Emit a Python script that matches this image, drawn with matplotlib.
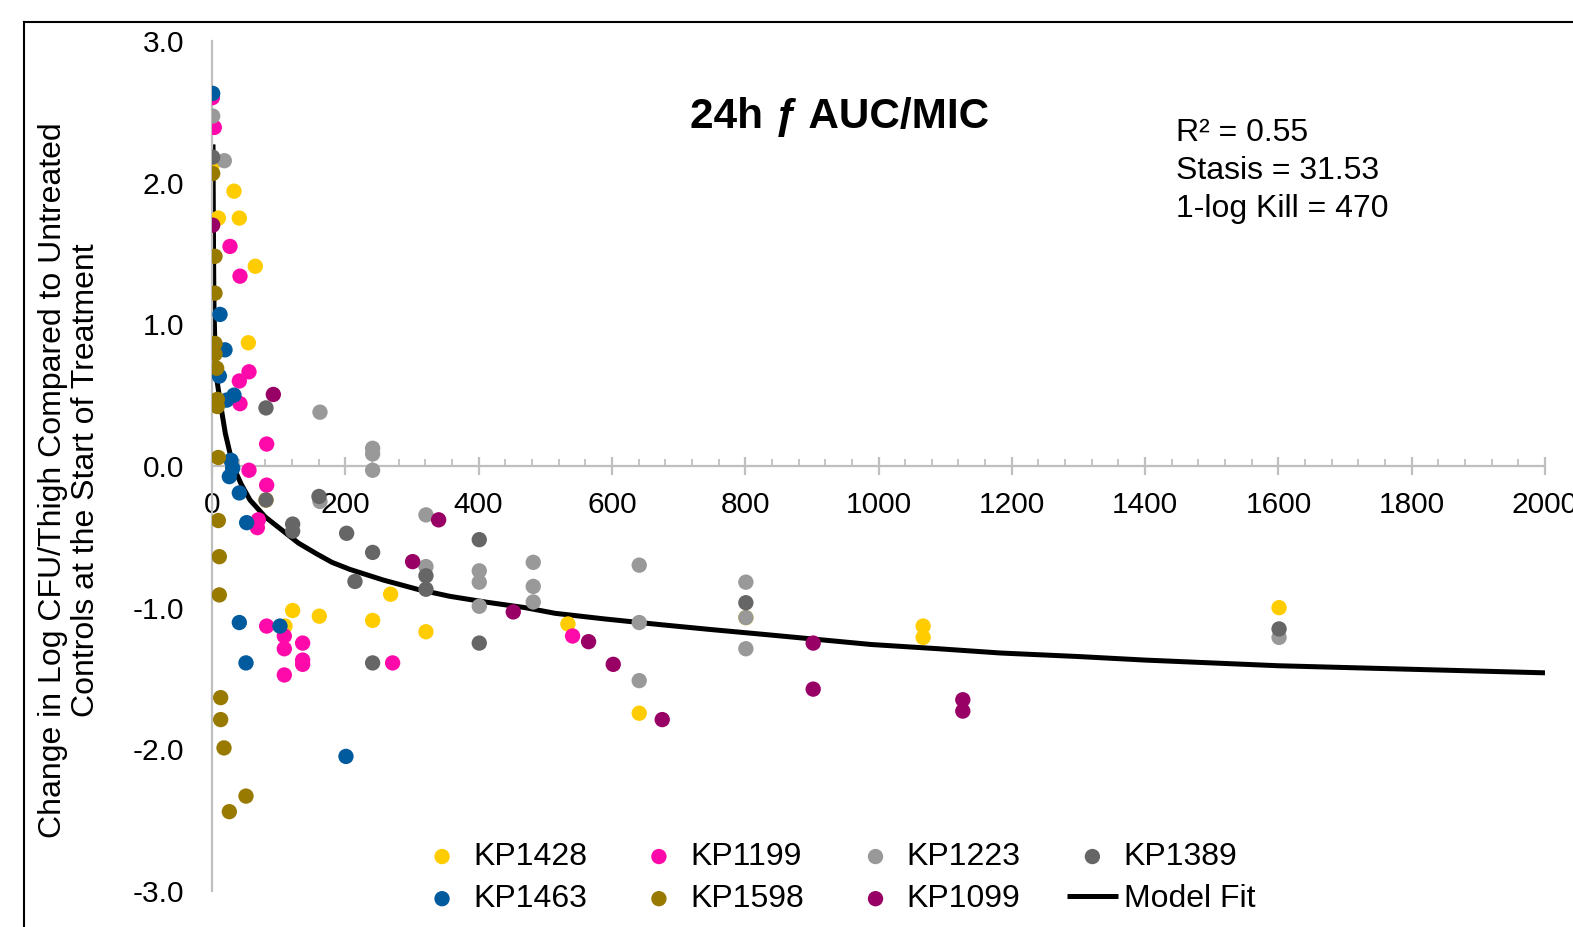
import matplotlib
matplotlib.use("Agg")
import matplotlib.pyplot as plt
from matplotlib.lines import Line2D
from matplotlib.ticker import MultipleLocator, FormatStrFormatter

plt.rcParams['font.family'] = ['Liberation Sans', 'DejaVu Sans']
plt.rcParams['axes.unicode_minus'] = False

# ---------------- data ----------------
kp1428_x = [0, 33, 41, 9.5, 65, 54.5, 81, 121, 161, 109.5, 241, 268, 321, 534, 641, 1067, 1067, 801, 1601]
kp1428_y = [2.12, 1.94, 1.75, 1.75, 1.41, 0.87, -0.24, -1.02, -1.06, -1.13, -1.09, -0.905, -1.17, -1.115, -1.745, -1.13, -1.21, -1.07, -1.0]

kp1199_x = [0.5, 3.5, 27, 42, 55.5, 41, 42, 82, 55.5, 82, 69.5, 68, 82, 108.5, 108.5, 108.5, 136, 136, 136, 271, 541]
kp1199_y = [2.60, 2.39, 1.55, 1.34, 0.665, 0.60, 0.44, 0.155, -0.03, -0.135, -0.38, -0.435, -1.13, -1.20, -1.29, -1.475, -1.25, -1.37, -1.40, -1.39, -1.20]

kp1223_x = [1, 18.5, 162, 241, 241, 241, 162, 321, 321, 401, 401, 401, 482, 482, 482, 641, 641, 641, 801, 801, 801, 1601]
kp1223_y = [2.47, 2.155, 0.38, 0.125, 0.085, -0.03, -0.25, -0.345, -0.71, -0.74, -0.82, -0.99, -0.68, -0.85, -0.96, -0.70, -1.105, -1.515, -0.82, -1.07, -1.29, -1.21]

kp1389_x = [1, 81, 81, 160.5, 121, 121, 202, 241, 214.5, 321, 321, 401, 241, 401, 801, 1601]
kp1389_y = [2.18, 0.41, -0.24, -0.215, -0.41, -0.46, -0.475, -0.61, -0.815, -0.775, -0.87, -0.52, -1.39, -1.25, -0.965, -1.15]

kp1463_x = [1, 12, 19.5, 11, 22, 33, 28.5, 31, 26, 41, 52, 41, 102, 51, 201]
kp1463_y = [2.63, 1.07, 0.82, 0.635, 0.465, 0.50, 0.04, -0.016, -0.075, -0.19, -0.40, -1.105, -1.13, -1.39, -2.05]

kp1598_x = [1, 4.5, 4.5, 4.5, 4.5, 7, 8, 8, 9.5, 9.5, 11, 11, 13, 13, 18, 51, 26]
kp1598_y = [2.065, 1.48, 1.22, 0.865, 0.79, 0.69, 0.47, 0.42, 0.06, -0.385, -0.64, -0.91, -1.635, -1.79, -1.99, -2.33, -2.44]

kp1099_x = [1, 92, 340, 301, 452, 565, 602, 675.5, 902, 902, 1126.5, 1126.5]
kp1099_y = [1.70, 0.505, -0.38, -0.675, -1.03, -1.24, -1.40, -1.79, -1.25, -1.575, -1.65, -1.73]

# model fit curve
model_x = [1.5, 2, 2.5, 3, 4.5, 7, 12, 20, 31.5, 44, 57, 80, 107, 130, 157, 180, 207, 257, 308, 357, 410, 470, 515,
           590, 673, 750, 831, 910, 989, 1090, 1183, 1300, 1400, 1500, 1600, 1800, 2000]
model_y = [2.27, 1.75, 1.38, 1.12, 0.82, 0.62, 0.46, 0.23, 0.0, -0.13, -0.24, -0.36, -0.46, -0.545, -0.62, -0.68, -0.73, -0.805, -0.87, -0.92, -0.96, -1.0, -1.04,
           -1.08, -1.12, -1.155, -1.19, -1.225, -1.26, -1.29, -1.32, -1.345, -1.37, -1.39, -1.41, -1.435, -1.46]

series = [
    ("KP1428", kp1428_x, kp1428_y, "#FFCC00"),
    ("KP1199", kp1199_x, kp1199_y, "#FF0AAA"),
    ("KP1223", kp1223_x, kp1223_y, "#999999"),
    ("KP1389", kp1389_x, kp1389_y, "#666666"),
    ("KP1463", kp1463_x, kp1463_y, "#005A9E"),
    ("KP1598", kp1598_x, kp1598_y, "#997A00"),
    ("KP1099", kp1099_x, kp1099_y, "#990066"),
]

title = "24h \u0192 AUC/MIC"
annot = "R\u00b2 = 0.55\nStasis = 31.53\n1-log Kill = 470"
ylabel = "Change in Log CFU/Thigh Compared to Untreated\nControls at the Start of Treatment"

# ---------------- figure ----------------
W, H = 1573, 927
fig = plt.figure(figsize=(W / 100, H / 100), dpi=100)
ax = fig.add_axes([212 / W, (H - 891) / H, (1545 - 212) / W, (891 - 41) / H])

line_fit, = ax.plot(model_x, model_y, color="black", lw=3.6, zorder=2, solid_capstyle="butt")
handles = {}
for i, (name, xs, ys, col) in enumerate(series):
    h = ax.scatter(xs, ys, s=122, color=col, edgecolors="none", zorder=3 + i, label=name)
    handles[name] = h

ax.set_xlim(0, 2000)
ax.set_ylim(-3, 3)
ax.xaxis.set_major_locator(MultipleLocator(200))
ax.xaxis.set_minor_locator(MultipleLocator(40))
ax.yaxis.set_major_locator(MultipleLocator(1))
ax.yaxis.set_major_formatter(FormatStrFormatter("%.1f"))

for side in ("top", "right"):
    ax.spines[side].set_visible(False)
ax.spines["bottom"].set_position(("data", 0))
ax.spines["left"].set_position(("data", 0))
for side in ("bottom", "left"):
    ax.spines[side].set_color("#BFBFBF")
    ax.spines[side].set_linewidth(1.6)

ax.tick_params(axis="x", which="major", direction="inout", length=13, width=1.6,
               color="#BFBFBF", labelsize=21.5, pad=11.5, labelcolor="black")
ax.tick_params(axis="x", which="minor", direction="in", length=5, width=1.3, color="#BFBFBF")
ax.tick_params(axis="y", which="major", length=0, labelsize=21.5, pad=20, labelcolor="black")

ax.set_ylabel(ylabel, fontsize=23, linespacing=1.12, labelpad=0)
ax.yaxis.set_label_coords((101 - 212) / (1545 - 212), (891 - 480) / (891 - 41))

fig.text(840 / W, 1 - 117 / H, title, fontsize=30.4, fontweight="bold", ha="center", va="center")
fig.text(1176 / W, 1 - 118 / H, annot, fontsize=23, ha="left", va="top", linespacing=1.34)

order = ["KP1428", "KP1463", "KP1199", "KP1598", "KP1223", "KP1099", "KP1389"]
hl = [handles[n] for n in order] + [line_fit]
ll = order + ["Model Fit"]
fig.legend(hl, ll, loc="center", bbox_to_anchor=(836 / W, 1 - 878 / H), ncol=4,
           frameon=False, fontsize=23, handlelength=1.58, handletextpad=0.19,
           columnspacing=1.45, labelspacing=0.38, markerscale=1.0, borderpad=0)

# outer frame
fig.add_artist(Line2D([24 / W, 1.0], [1 - 22 / H, 1 - 22 / H], color="black", lw=1.5, transform=fig.transFigure))
fig.add_artist(Line2D([24 / W, 24 / W], [1 - 22 / H, 0.0], color="black", lw=1.5, transform=fig.transFigure))

fig.savefig("out.png", dpi=100)
